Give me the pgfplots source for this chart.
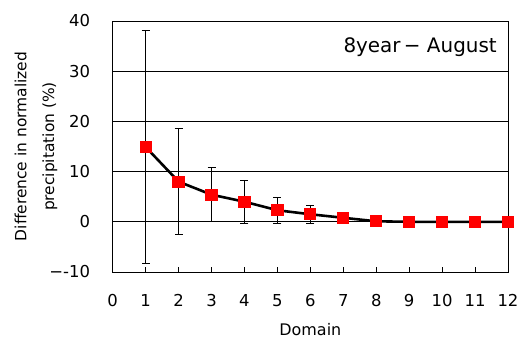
\documentclass[border=0pt]{standalone}
\usepackage{fontspec}
\setmainfont{DejaVu Sans}
\usepackage{pgfplots}
\pgfplotsset{compat=1.18}
\begin{document}
\begin{tikzpicture}
\begin{axis}[
  name=ax,
  scale only axis,
  width=395.3bp, height=251bp,
  xmin=0, xmax=12, ymin=-10, ymax=40,
  xtick={0,...,12}, ytick={-10,0,10,20,30,40},
  xtick pos=bottom, tick align=inside,
  major tick length=5bp,
  ytick style={draw=none},
  xtick style={black, line width=0.8pt},
  ymajorgrids, grid style={black, line width=0.9pt},
  axis line style={black, line width=1pt},
  /pgf/number format/assume math mode=true,
  tick label style={font=\fontsize{16.5}{19}\selectfont, inner sep=0pt},
  yticklabel style={anchor=east, xshift=-22.5bp},
  xticklabel style={anchor=north, yshift=-22bp},
  yticklabel={\ifdim\tick pt<0pt \char"2212\pgfmathprintnumber[print sign=false]{\tick}\else\pgfmathprintnumber{\tick}\fi},
  every axis x label/.style={at={(axis description cs:0.5,0)}, anchor=north, inner sep=0pt, yshift=-51bp},
  every axis y label/.style={at={(axis description cs:-0.194,0.5)}, rotate=90, anchor=center, inner sep=0pt},
  xlabel={Domain},
  xlabel style={font=\fontsize{16}{19}\selectfont},
  ylabel={Difference in normalized\\precipitation (\%)},
  ylabel style={font=\fontsize{15.5}{28}\selectfont, align=center},
]
\addplot[black, line width=2.6pt, mark=square*, mark size=5.6bp,
  mark options={fill=red, draw=red, line width=0pt},
  error bars/.cd, y dir=both, y explicit,
  error bar style={black, line width=0.9pt, solid},
  error mark options={black, line width=0.9pt, rotate=90, mark size=4bp}]
coordinates {
(1,14.9) +- (0,23.2)
(2,8.0) +- (0,10.6)
(3,5.4) +- (0,5.4)
(4,4.0) +- (0,4.3)
(5,2.3) +- (0,2.6)
(6,1.5) +- (0,1.8)
(7,0.8) +- (0,1.1)
(8,0.1) +- (0,0.3)
(9,0.0) +- (0,0)
(10,0.0) +- (0,0)
(11,0.0) +- (0,0)
(12,0.0) +- (0,0)
};
\node[anchor=east, inner sep=0pt, font=\fontsize{20}{24}\selectfont] at (rel axis cs:0.972,0.896) {8year\,\char"2212\ August};
\end{axis}
\path (ax.south west) ++(-112.7bp,-71bp) coordinate (bbA);
\path (ax.north east) ++(11bp,21bp) coordinate (bbB);
\pgfresetboundingbox
\path (bbA) rectangle (bbB);
\end{tikzpicture}
\end{document}
